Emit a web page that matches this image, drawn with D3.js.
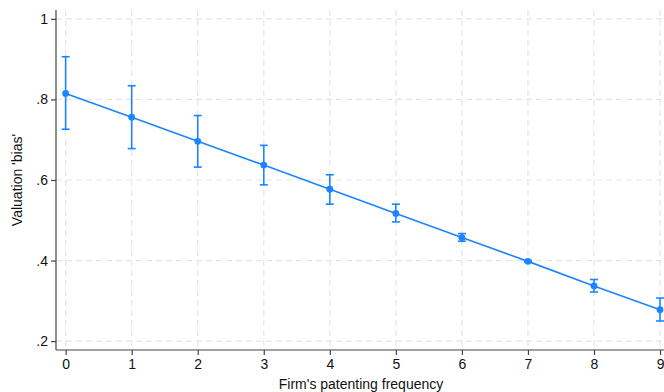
<!DOCTYPE html>
<html>
<head>
<meta charset="utf-8">
<script src="https://cdn.jsdelivr.net/npm/d3@7"></script>
<style>
  html, body { margin: 0; padding: 0; background: #fff; }
  svg { display: block; font-family: "Liberation Sans", Arial, sans-serif; }
</style>
</head>
<body>
<svg id="chart" width="664" height="392"></svg>
<script>
// Patenting frequency (x) and estimated valuation bias with 95% CI
const frequency = [0, 1, 2, 3, 4, 5, 6, 7, 8, 9];
const bias      = [0.815, 0.756, 0.696, 0.637, 0.577, 0.517, 0.457, 0.398, 0.337, 0.278];
const ciLow     = [0.726, 0.678, 0.632, 0.588, 0.540, 0.496, 0.448, 0.396, 0.322, 0.250];
const ciHigh    = [0.906, 0.834, 0.760, 0.686, 0.613, 0.540, 0.467, 0.400, 0.353, 0.307];
const yTicks    = [0.2, 0.4, 0.6, 0.8, 1];
const yTickLabels = [".2", ".4", ".6", ".8", "1"];
const xTicks    = [0, 1, 2, 3, 4, 5, 6, 7, 8, 9];

const svg = d3.select("#chart");
const plotL = 56, plotR = 664, plotT = 10, plotB = 350;
const blue = "#1a85ff";
const fontSize = "14px";

const x = d3.scaleLinear().domain([-0.146, 9.06]).range([plotL, plotR]);
const y = d3.scaleLinear().domain([0.178, 1.022]).range([plotB, plotT]);

// Dashed grid
const grid = svg.append("g").attr("stroke", "#e6e6e6").attr("stroke-width", 1.2)
  .attr("stroke-dasharray", "6,4");
grid.selectAll("line.h").data(yTicks).join("line").attr("class", "h")
  .attr("x1", plotL).attr("x2", plotR)
  .attr("y1", d => y(d)).attr("y2", d => y(d));
grid.selectAll("line.v").data(xTicks).join("line").attr("class", "v")
  .attr("y1", plotT).attr("y2", plotB)
  .attr("x1", d => x(d)).attr("x2", d => x(d));

// Axes
const yAxis = d3.axisLeft(y).tickValues(yTicks)
  .tickFormat((d, i) => yTickLabels[i]).tickSize(5).tickPadding(3).tickSizeOuter(0);
const gy = svg.append("g").attr("transform", `translate(${plotL},0)`).call(yAxis);
const xAxis = d3.axisBottom(x).tickValues(xTicks).tickSize(5).tickPadding(4).tickSizeOuter(0);
const gx = svg.append("g").attr("transform", `translate(0,${plotB})`).call(xAxis);
[gx, gy].forEach(g => {
  g.select(".domain").attr("stroke", "#444").attr("stroke-width", 1.2);
  g.selectAll(".tick line").attr("stroke", "#444").attr("stroke-width", 1.2);
  g.selectAll(".tick text").attr("fill", "#111").style("font-size", fontSize)
    .style("font-family", "Liberation Sans, Arial, sans-serif");
});
gy.select(".domain").attr("d", `M0,${plotT}V${plotB}`);
gx.select(".domain").attr("d", `M${plotL},0H${plotR}`);

// Axis titles
svg.append("text").attr("x", 361).attr("y", 389)
  .attr("text-anchor", "middle").style("font-size", fontSize).attr("fill", "#111")
  .text("Firm's patenting frequency");
svg.append("text").attr("transform", `translate(22,${(plotT + plotB) / 2}) rotate(-90)`)
  .attr("text-anchor", "middle").style("font-size", fontSize).attr("fill", "#111")
  .text("Valuation 'bias'");

// Confidence intervals
const rows = frequency.map((f, i) => ({ f, b: bias[i], lo: ciLow[i], hi: ciHigh[i] }));
const ci = svg.append("g").attr("stroke", blue).attr("stroke-width", 1.6);
ci.selectAll("line.bar").data(rows).join("line").attr("class", "bar")
  .attr("x1", d => x(d.f)).attr("x2", d => x(d.f))
  .attr("y1", d => y(d.lo)).attr("y2", d => y(d.hi));
ci.selectAll("line.capHi").data(rows).join("line").attr("class", "capHi")
  .attr("x1", d => x(d.f) - 4).attr("x2", d => x(d.f) + 4)
  .attr("y1", d => y(d.hi)).attr("y2", d => y(d.hi));
ci.selectAll("line.capLo").data(rows).join("line").attr("class", "capLo")
  .attr("x1", d => x(d.f) - 4).attr("x2", d => x(d.f) + 4)
  .attr("y1", d => y(d.lo)).attr("y2", d => y(d.lo));

// Estimate line and points
svg.append("path").datum(rows)
  .attr("fill", "none").attr("stroke", blue).attr("stroke-width", 1.6)
  .attr("d", d3.line().x(d => x(d.f)).y(d => y(d.b)));
svg.append("g").selectAll("circle").data(rows).join("circle")
  .attr("cx", d => x(d.f)).attr("cy", d => y(d.b)).attr("r", 3.4)
  .attr("fill", blue);
</script>
</body>
</html>
